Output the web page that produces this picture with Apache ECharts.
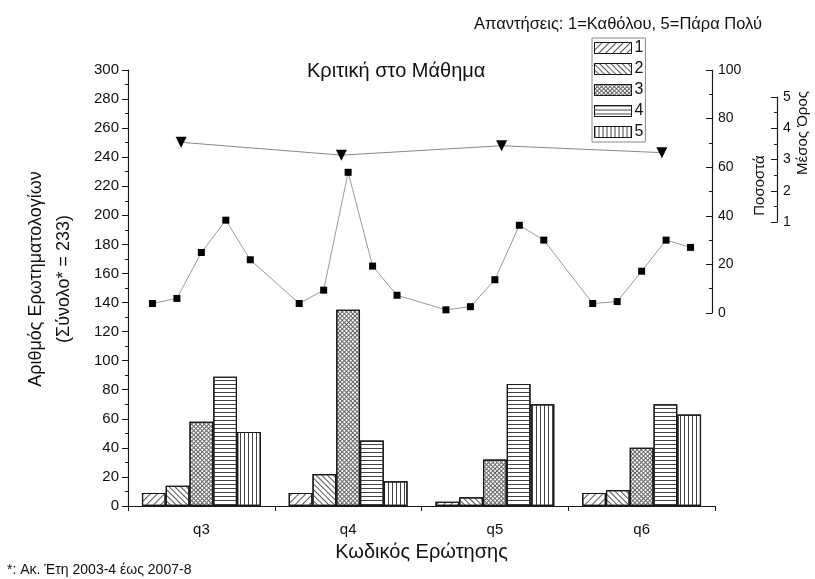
<!DOCTYPE html>
<html>
<head>
<meta charset="utf-8">
<script src="https://cdn.jsdelivr.net/npm/echarts@6/dist/echarts.min.js"></script>
<style>
html,body{margin:0;padding:0;background:#fff;}
#chart{width:815px;height:579px;}
</style>
</head>
<body>
<div id="chart"></div>
<script>
// ---- data ----
const categories = ['q3', 'q4', 'q5', 'q6'];
const responseNames = ['1', '2', '3', '4', '5'];
// number of questionnaires per answer (1..5) for each question
const answer1 = [9, 9, 3, 9];
const answer2 = [14, 22, 6, 11];
const answer3 = [58, 135, 32, 40];
const answer4 = [89, 45, 84, 70];
const answer5 = [51, 17, 70, 63];
// percentages (answers 1..5) per question
const pctQ3 = [3.9, 6.0, 24.9, 38.2, 21.9];
const pctQ4 = [3.9, 9.4, 57.9, 19.3, 7.3];
const pctQ5 = [1.3, 2.6, 13.7, 36.1, 30.0];
const pctQ6 = [3.9, 4.7, 17.2, 30.0, 27.0];
// mean score per question
const meanScore = [3.55, 3.14, 3.44, 3.22];

const titleText = 'Κριτική στο Μάθημα';
const headerText = 'Απαντήσεις: 1=Καθόλου, 5=Πάρα Πολύ';
const footnoteText = '*: Ακ. Έτη 2003-4 έως 2007-8';

// ---- build ----
const answerSets = [answer1, answer2, answer3, answer4, answer5];
const pctGroups = [pctQ3, pctQ4, pctQ5, pctQ6];
// slot layout: a gap slot between question groups (one slot per bar)
const pctData = ['-'];
pctGroups.forEach(g => { g.forEach(v => pctData.push(v)); pctData.push('-'); });
const pctSlots = pctData.map((_, i) => String(i));

const ink = '#1a1a1a';
const decals = [
  { symbol: 'rect', symbolSize: 1, color: '#555', dashArrayX: [1, 0], dashArrayY: [1, 4], rotation: -Math.PI / 4 },
  { symbol: 'rect', symbolSize: 1, color: '#555', dashArrayX: [1, 0], dashArrayY: [1, 3], rotation: Math.PI / 4 },
  { symbol: 'rect', symbolSize: 1, color: '#666', dashArrayX: [[1, 0], [1, 2], [1, 2]], dashArrayY: [1, 0], rotation: Math.PI / 4 },
  { symbol: 'rect', symbolSize: 1, color: '#444', dashArrayX: [1, 0], dashArrayY: [1, 3], rotation: 0 },
  { symbol: 'rect', symbolSize: 1, color: '#444', dashArrayX: [1, 3], dashArrayY: [1, 0], rotation: 0 }
];

const barSeries = answerSets.map((arr, i) => ({
  name: responseNames[i],
  type: 'bar',
  xAxisIndex: 0,
  yAxisIndex: 0,
  data: arr,
  barGap: '0%',
  barCategoryGap: '19%',
  itemStyle: { color: '#fff', borderColor: ink, borderWidth: 1.2, decal: decals[i] },
  emphasis: { disabled: true }
}));

const font = 'Arial, "Liberation Sans", sans-serif';
const chart = echarts.init(document.getElementById('chart'), null, { renderer: 'canvas' });
chart.setOption({
  animation: false,
  aria: { enabled: true, decal: { show: true } },
  textStyle: { fontFamily: font, color: '#111' },
  title: [
    { text: titleText, left: 302, top: 56, textStyle: { fontSize: 20, fontWeight: 'normal', color: '#111', fontFamily: font } },
    { text: headerText, right: 48, top: 11, textStyle: { fontSize: 16.5, fontWeight: 'normal', color: '#111', fontFamily: font } },
    { text: footnoteText, left: 2, top: 558, textStyle: { fontSize: 14, fontWeight: 'normal', color: '#111', fontFamily: font } }
  ],
  legend: {
    data: responseNames,
    orient: 'vertical',
    left: 592,
    top: 38,
    icon: 'rect',
    itemWidth: 37,
    itemHeight: 11,
    itemGap: 5,
    padding: [2, 2, 2, 2],
    borderColor: '#888',
    borderWidth: 1,
    selectedMode: false,
    textStyle: { fontSize: 16, color: '#111', fontFamily: font, padding: [0, 0, 0, -2] },
    itemStyle: { borderColor: ink, borderWidth: 1 }
  },
  grid: [
    { left: 128, right: 100, top: 70, bottom: 73 },
    { left: 128, right: 100, top: 70, height: 243 },
    { left: 101, right: 73, top: 97, height: 125 }
  ],
  xAxis: [
    {
      type: 'category', gridIndex: 0, data: categories, boundaryGap: true,
      axisLine: { lineStyle: { color: ink, width: 1.2 } },
      axisTick: { alignWithLabel: true, length: 7, lineStyle: { color: ink } },
      axisLabel: { fontSize: 15, color: '#111', margin: 16 },
      name: 'Κωδικός Ερώτησης', nameLocation: 'middle', nameGap: 36,
      nameTextStyle: { fontSize: 20, color: '#111' }
    },
    {
      type: 'category', gridIndex: 0, data: categories, boundaryGap: true, position: 'bottom',
      axisLine: { show: false },
      axisTick: { show: true, length: 5, lineStyle: { color: ink } },
      axisLabel: { show: false }
    },
    { type: 'category', gridIndex: 1, data: pctSlots, boundaryGap: false, show: false },
    { type: 'category', gridIndex: 2, data: categories, boundaryGap: true, show: false }
  ],
  yAxis: [
    {
      type: 'value', gridIndex: 0, min: 0, max: 300, interval: 20,
      axisLine: { show: true, lineStyle: { color: ink, width: 1.2 } },
      axisTick: { show: true, length: 6, lineStyle: { color: ink } },
      minorTick: { show: true, splitNumber: 2, length: 3, lineStyle: { color: ink } },
      splitLine: { show: false },
      axisLabel: { fontSize: 15, color: '#111', margin: 9 },
      name: 'Αριθμός Ερωτηματολογίων\n(Σύνολο* = 233)',
      nameLocation: 'middle', nameGap: 50, nameRotate: 90,
      nameTextStyle: { fontSize: 18, lineHeight: 28, color: '#111', align: 'center', padding: [0, 0, 0, 18] }
    },
    {
      type: 'value', gridIndex: 1, min: 0, max: 100, interval: 20, position: 'right', offset: -3,
      axisLine: { show: true, lineStyle: { color: ink, width: 1.2 } },
      axisTick: { show: true, inside: true, length: 6, lineStyle: { color: ink } },
      minorTick: { show: true, splitNumber: 2, length: 3, lineStyle: { color: ink } },
      splitLine: { show: false },
      axisLabel: { fontSize: 14, color: '#111', margin: 6 },
      name: 'Ποσοστά', nameLocation: 'middle', nameGap: 38, nameRotate: 90,
      nameTextStyle: { fontSize: 15, color: '#111', padding: [0, 0, 0, 12] }
    },
    {
      type: 'value', gridIndex: 2, min: 1, max: 5, interval: 1, position: 'right', offset: 35,
      axisLine: { show: true, lineStyle: { color: ink, width: 1.2 } },
      axisTick: { show: true, inside: true, length: 6, lineStyle: { color: ink } },
      minorTick: { show: true, splitNumber: 2, length: 3, lineStyle: { color: ink } },
      splitLine: { show: false },
      axisLabel: { fontSize: 14, color: '#111', margin: 6 }
    }
  ],
  graphic: [
    {
      type: 'text', x: 803, y: 133, rotation: Math.PI / 2,
      style: { text: 'Μέσος Όρος', fontSize: 15, fontFamily: font, fill: '#111', textAlign: 'center', textVerticalAlign: 'middle' }
    }
  ],
  series: barSeries.concat([
    {
      name: 'Ποσοστά', type: 'line', xAxisIndex: 2, yAxisIndex: 1, data: pctData,
      connectNulls: true, symbol: 'rect', symbolSize: 7, z: 5,
      itemStyle: { color: '#000' }, lineStyle: { color: '#999', width: 1 },
      emphasis: { disabled: true }
    },
    {
      name: 'Μέσος Όρος', type: 'line', xAxisIndex: 3, yAxisIndex: 2, data: meanScore,
      symbol: 'triangle', symbolRotate: 180, symbolSize: 11, z: 5,
      itemStyle: { color: '#000' }, lineStyle: { color: '#888', width: 1 },
      emphasis: { disabled: true }
    }
  ])
});
</script>
</body>
</html>
